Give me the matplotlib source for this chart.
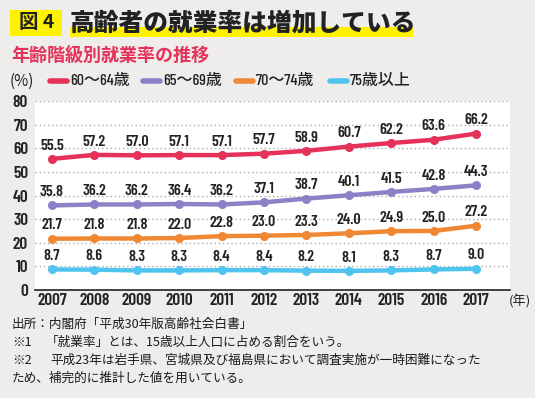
import numpy as np
import matplotlib.pyplot as plt
from matplotlib.patches import Rectangle
from matplotlib.lines import Line2D

# データ（就業率 %）
years = [2007, 2008, 2009, 2010, 2011, 2012, 2013, 2014, 2015, 2016, 2017]
rate_60_64 = [55.5, 57.2, 57.0, 57.1, 57.1, 57.7, 58.9, 60.7, 62.2, 63.6, 66.2]
rate_65_69 = [35.8, 36.2, 36.2, 36.4, 36.2, 37.1, 38.7, 40.1, 41.5, 42.8, 44.3]
rate_70_74 = [21.7, 21.8, 21.8, 22.0, 22.8, 23.0, 23.3, 24.0, 24.9, 25.0, 27.2]
rate_75 = [8.7, 8.6, 8.3, 8.3, 8.4, 8.4, 8.2, 8.1, 8.3, 8.7, 9.0]
series = [rate_60_64, rate_65_69, rate_70_74, rate_75]
series_labels = ['60〜64歳', '65〜69歳', '70〜74歳', '75歳以上']
colors = ['#e6325a', '#8e80c6', '#f08833', '#4fc4ee']
yticks = [0, 10, 20, 30, 40, 50, 60, 70, 80]

W, H = 535, 398
BG = '#eeedeb'
JP = ['Noto Sans CJK JP', 'DejaVu Sans']
NUM = ['Barlow Condensed', 'Liberation Sans Narrow', 'Noto Sans CJK JP', 'DejaVu Sans']

fig = plt.figure(figsize=(W / 100, H / 100), dpi=100, facecolor=BG)

def fx(px):
    return px / W

def fy(py):
    return 1 - py / H

# 軸の位置（ピクセル）
left, right, top, bottom = 35, 510, 101, 290
ax = fig.add_axes([fx(left), fy(bottom), fx(right - left), (bottom - top) / H])
ax.set_facecolor('white')

for vals, col in zip(series, colors):
    ax.plot(years, vals, color=col, lw=3.2, marker='o', ms=5.5,
            solid_capstyle='round', zorder=3)
    for x, v in zip(years, vals):
        ax.annotate(f'{v:.1f}', (x, v), xytext=(0, 4.5), textcoords='offset points',
                    ha='center', va='bottom', fontsize=11.5, fontweight=600,
                    family=NUM, color='#222222', zorder=4)

ax.set_xlim(2006.6, 2017.8)
ax.set_ylim(0, 80)
ax.set_xticks(years)
ax.set_yticks(yticks)
ax.tick_params(length=0, labelsize=12.5, colors='#222222')
ax.tick_params(axis='x', pad=2)
ax.tick_params(axis='y', pad=5)
for lab in ax.get_xticklabels() + ax.get_yticklabels():
    lab.set_family(NUM)
    lab.set_fontweight(600)
for y in yticks[1:]:
    ax.axhline(y, color='#aaaaaa', lw=1, ls=(0, (1, 2)), zorder=1)
for s in ['top', 'right', 'left']:
    ax.spines[s].set_visible(False)
ax.spines['bottom'].set_color('#222222')
ax.spines['bottom'].set_linewidth(1.2)

fig.text(fx(509), fy(302), '(年)', family=JP, fontsize=9.5, va='center',
         ha='left', color='#222222')

# タイトル
fig.add_artist(Rectangle((fx(10), fy(36)), fx(52), 26 / H, transform=fig.transFigure,
                         color='#fff200', lw=0))
fig.add_artist(Rectangle((fx(70), fy(37)), fx(343), 10 / H, transform=fig.transFigure,
                         color='#fff200', lw=0))
fig.text(fx(37), fy(23), '図 4', family=JP, fontsize=14, fontweight='bold',
         ha='center', va='center', color='#222222')
fig.text(fx(70), fy(22), '高齢者の就業率は増加している', family=JP, fontsize=17.8,
         fontweight='heavy', ha='left', va='center', color='#222222')
fig.text(fx(11), fy(55), '年齢階級別就業率の推移', family=JP, fontsize=13,
         fontweight='bold', ha='left', va='center', color='#e6325a')

# 凡例
fig.text(fx(10), fy(81), '(%)', family=JP, fontsize=11, ha='left', va='center',
         color='#222222')
leg_x = [50, 143, 236, 330]
for x0, lab, col in zip(leg_x, series_labels, colors):
    fig.add_artist(Line2D([fx(x0), fx(x0 + 17)], [fy(81), fy(81)], color=col, lw=4,
                          solid_capstyle='round', transform=fig.transFigure))
    fig.text(fx(x0 + 20), fy(81), lab, family=NUM, fontsize=11.5, fontweight=500,
             ha='left', va='center', color='#222222')

# 注記
notes = [
    (12, 324, '出所：内閣府「平成30年版高齢社会白書」'),
    (12, 342, '※1'),
    (46, 342, '「就業率」とは、15歳以上人口に占める割合をいう。'),
    (12, 360, '※2'),
    (50, 360, '平成23年は岩手県、宮城県及び福島県において調査実施が一時困難になった'),
    (12, 378, 'ため、補完的に推計した値を用いている。'),
]
for x0, y0, t in notes:
    fig.text(fx(x0), fy(y0), t, family=JP, fontsize=9.1, ha='left', va='center',
             color='#1a1a1a')

fig.savefig('out.png', dpi=100, facecolor=BG)
